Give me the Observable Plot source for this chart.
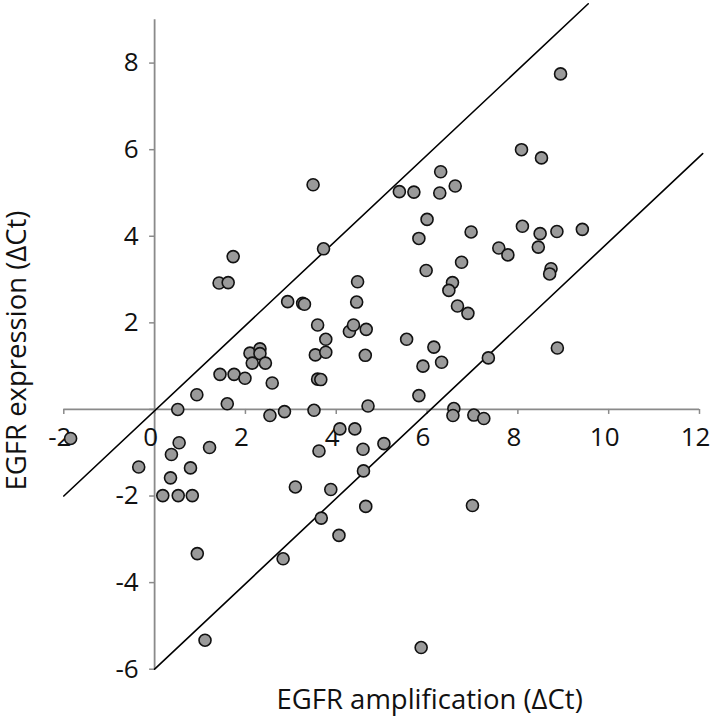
<!DOCTYPE html>
<html>
<head>
<meta charset="utf-8">
<script src="https://cdn.jsdelivr.net/npm/d3@7"></script>
<script src="https://cdn.jsdelivr.net/npm/@observablehq/plot@0.6"></script>
<style>
  html, body { margin: 0; padding: 0; background: #fff; }
  #chart svg { display: block; }
</style>
</head>
<body>
<div id="chart"></div>
<script>
// EGFR amplification (ΔCt) values
const amplification = [
  -1.85, -0.35, 0.54, 0.37, 1.21, 0.79, 0.35, 0.18, 0.52, 0.83,
  0.94, 1.11, 2.83, 3.10, 0.51, 0.93, 1.44, 1.75, 1.99, 1.60,
  1.42, 1.62, 1.73, 2.10, 2.32, 2.32, 2.15, 2.44, 2.59, 2.54,
  2.86, 2.93, 3.26, 3.30, 4.08, 4.41, 3.62, 3.51, 3.59, 3.54,
  3.77, 3.77, 3.59, 3.66, 3.72, 4.29, 4.38, 4.47, 4.45, 4.64,
  4.66, 3.49, 5.39, 5.71, 6.30, 6.28, 6.62, 6.00, 5.82, 6.97,
  6.76, 5.98, 6.56, 6.48, 6.67, 6.90, 5.55, 6.15, 5.91, 6.32,
  5.82, 4.70, 6.59, 6.57, 7.03, 7.25, 4.59, 5.05, 4.60, 3.88,
  4.65, 3.67, 4.06, 5.87, 7.00, 7.58, 7.78, 8.45, 8.73, 8.70,
  8.49, 8.86, 9.42, 8.87, 7.35, 8.94, 8.08, 8.52, 8.10
];
// EGFR expression (ΔCt) values
const expression = [
  -0.67, -1.33, -0.77, -1.04, -0.88, -1.35, -1.58, -1.99, -1.99, -1.99,
  -3.33, -5.33, -3.45, -1.79, 0.00, 0.34, 0.81, 0.81, 0.72, 0.13,
  2.92, 2.93, 3.53, 1.30, 1.40, 1.29, 1.07, 1.07, 0.61, -0.14,
  -0.05, 2.49, 2.45, 2.43, -0.45, -0.45, -0.96, -0.02, 1.95, 1.26,
  1.32, 1.62, 0.70, 0.69, 3.71, 1.80, 1.95, 2.95, 2.48, 1.25,
  1.85, 5.19, 5.03, 5.02, 5.49, 5.00, 5.16, 4.39, 3.95, 4.10,
  3.40, 3.21, 2.93, 2.75, 2.39, 2.22, 1.62, 1.44, 1.00, 1.09,
  0.32, 0.08, 0.02, -0.14, -0.13, -0.21, -0.92, -0.79, -1.42, -1.85,
  -2.24, -2.51, -2.91, -5.50, -2.22, 3.73, 3.57, 3.75, 3.25, 3.13,
  4.06, 4.11, 4.16, 1.42, 1.19, 7.75, 6.00, 5.81, 4.23
];

// Reference lines (endpoints)
const upperLineX = [-2, 9.55];
const upperLineY = [-2, 9.37];
const lowerLineX = [0, 12.07];
const lowerLineY = [-6, 5.91];

// Tick values and labels
const xTicks = [-2, 0, 2, 4, 6, 8, 10, 12];
const yTicks = [-6, -4, -2, 2, 4, 6, 8];
const yTickMarks = [-6, -4, -2, 0, 2, 4, 6, 8];
const xTitle = "EGFR amplification (ΔCt)";
const yTitle = "EGFR expression (ΔCt)";

const points = amplification.map((a, i) => ({x: a, y: expression[i]}));
const upperLine = upperLineX.map((x, i) => ({x, y: upperLineY[i]}));
const lowerLine = lowerLineX.map((x, i) => ({x, y: lowerLineY[i]}));

const font = "'Open Sans', sans-serif";
const axisColor = "#8a8a8a";

const chart = Plot.plot({
  width: 711,
  height: 720,
  marginLeft: 63.3,
  marginRight: 12,
  marginTop: 19.3,
  marginBottom: 51.3,
  style: {fontFamily: font, background: "#fff"},
  x: {domain: [-2, 12], axis: null},
  y: {domain: [-6, 9], axis: null},
  marks: [
    // axis lines
    Plot.ruleY([0], {x1: -2, x2: 12, stroke: axisColor, strokeWidth: 1.8}),
    Plot.ruleX([0], {y1: -6, y2: 9, stroke: axisColor, strokeWidth: 1.8}),
    // tick marks
    Plot.ruleX(xTicks, {x: d => d, y1: 0, y2: 0, insetBottom: -5, stroke: axisColor, strokeWidth: 1.5}),
    Plot.ruleY(yTickMarks, {y: d => d, x1: 0, x2: 0, insetLeft: -5, stroke: axisColor, strokeWidth: 1.5}),
    // tick labels
    Plot.text(xTicks, {x: d => d, y: 0, text: d => String(d), dy: 28, dx: -4, lineAnchor: "middle", fontSize: 26, fill: "#111"}),
    Plot.text(yTicks, {x: 0, y: d => d, text: d => String(d), dx: -16, textAnchor: "end", lineAnchor: "middle", fontSize: 26, fill: "#111"}),
    // reference lines
    Plot.line(upperLine, {x: "x", y: "y", stroke: "#000", strokeWidth: 1.6}),
    Plot.line(lowerLine, {x: "x", y: "y", stroke: "#000", strokeWidth: 1.6}),
    // points
    Plot.dot(points, {x: "x", y: "y", r: 6, fill: "#9a9a9a", stroke: "#111", strokeWidth: 1.6}),
    // axis titles
    Plot.text([xTitle], {frameAnchor: "bottom", textAnchor: "middle", dx: 48, dy: 31, lineAnchor: "middle", fontSize: 27.5, fill: "#111"}),
    Plot.text([yTitle], {frameAnchor: "left", textAnchor: "middle", rotate: -90, dx: -47, dy: 6, lineAnchor: "middle", fontSize: 27.5, fill: "#111"})
  ]
});

document.getElementById("chart").appendChild(chart);
</script>
</body>
</html>
